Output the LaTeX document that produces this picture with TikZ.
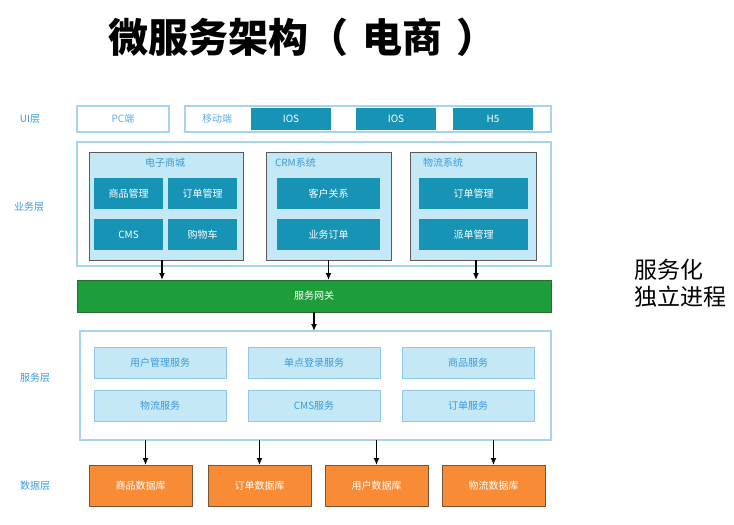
\documentclass[tikz,border=0pt]{standalone}
\usepackage{fontspec}
\setmainfont{Noto Sans CJK SC}
\usetikzlibrary{arrows.meta,positioning}
\definecolor{TealBox}{HTML}{1793B6}
\definecolor{PaleBlue}{HTML}{C5E8F7}
\definecolor{FrameBlue}{HTML}{A6D4EF}
\definecolor{LabelBlue}{HTML}{3A9AD9}
\definecolor{SystemGray}{HTML}{5A5A5A}
\definecolor{GateGreen}{HTML}{1E9E3A}
\definecolor{GateEdge}{HTML}{2F6B2F}
\definecolor{StoreOrange}{HTML}{F78B36}
\definecolor{StoreEdge}{HTML}{7A5236}

\begin{document}
\begin{tikzpicture}[x=1pt, y=-1pt, >={Latex[length=7pt,width=6pt]},
  every node/.style={inner sep=0pt, outer sep=0pt, font=\fontsize{10}{12}\selectfont},
  frame/.style={draw=FrameBlue, line width=1.5pt, fill=white},
  layer/.style={text=LabelBlue},
  tealbox/.style={fill=TealBox, text=white},
  system/.style={draw=SystemGray, line width=1pt, fill=PaleBlue, minimum width=#1, minimum height=108pt},
  svcbox/.style={draw=FrameBlue!80!LabelBlue, line width=1pt, fill=PaleBlue, text=LabelBlue,
    minimum width=132pt, minimum height=31pt},
  store/.style={draw=StoreEdge, line width=1pt, fill=StoreOrange, text=white,
    minimum width=103pt, minimum height=41pt},
  link/.style={->, line width=1.3pt}]
  \useasboundingbox (0,0) rectangle (734,525);

  % title and side note
  \node[font=\fontsize{40}{48}\selectfont\bfseries] (title) at (302,37)
    {微服务架构（\hspace{14pt}电商\hspace{14pt}）};
  \node[anchor=west, align=left, font=\fontsize{23}{27}\selectfont] (note) at (634,283)
    {服务化\\独立进程};

  % layer labels
  \node[layer] (lui) at (30,119) {UI层};
  \node[layer] (lbiz) at (29,207) {业务层};
  \node[layer] (lsvc) at (35,378) {服务层};
  \node[layer] (ldata) at (35,486) {数据层};

  % UI layer
  \node[frame, text=LabelBlue!80, minimum width=92pt, minimum height=26pt] (pc) at (123,119) {PC端};
  \node[frame, minimum width=366pt, minimum height=26pt] (mob) at (368,119) {};
  \node[text=LabelBlue!80] (mobtxt) at (217,119) {移动端};
  \node[tealbox, minimum width=80pt, minimum height=22pt] (ios1) at (291,119) {IOS};
  \node[tealbox, minimum width=80pt, minimum height=22pt] (ios2) at (396,119) {IOS};
  \node[tealbox, minimum width=80pt, minimum height=22pt] (h5) at (493,119) {H5};

  % business layer
  \node[frame, minimum width=474pt, minimum height=124pt] (biz) at (314,204) {};
  \node[system=154pt] (mall) at (166,206) {};
  \node[text=LabelBlue] (malltxt) at (165,163) {电子商城};
  \node[tealbox, minimum width=69pt, minimum height=31pt] (goods) at (128.5,193.5) {商品管理};
  \node[tealbox, minimum width=69pt, minimum height=31pt] (order) at (202.5,193.5) {订单管理};
  \node[tealbox, minimum width=69pt, minimum height=31pt] (cms) at (128.5,234.5) {CMS};
  \node[tealbox, minimum width=69pt, minimum height=31pt] (cart) at (202.5,234.5) {购物车};

  \node[system=125pt] (crm) at (328.5,206) {};
  \node[text=LabelBlue, anchor=west] (crmtxt) at (275,163) {CRM系统};
  \node[tealbox, minimum width=103pt, minimum height=31pt] (cust) at (328.5,193.5) {客户关系};
  \node[tealbox, minimum width=103pt, minimum height=31pt] (bizord) at (328.5,234.5) {业务订单};

  \node[system=126pt] (wl) at (473,206) {};
  \node[text=LabelBlue, anchor=west] (wltxt) at (423,163) {物流系统};
  \node[tealbox, minimum width=109pt, minimum height=31pt] (wlord) at (473.5,193.5) {订单管理};
  \node[tealbox, minimum width=109pt, minimum height=31pt] (dispatch) at (473.5,234.5) {派单管理};

  % gateway
  \node[draw=GateEdge, line width=1pt, fill=GateGreen, text=white,
    minimum width=474pt, minimum height=32pt] (gw) at (314,296) {服务网关};
  \draw[link] ([xshift=-4pt]mall.south) -- ([xshift=-4pt]mall.south |- gw.north);
  \draw[link] (crm.south) -- (crm.south |- gw.north);
  \draw[link] ([xshift=3pt]wl.south) -- ([xshift=3pt]wl.south |- gw.north);

  % service layer
  \node[frame, minimum width=471pt, minimum height=109pt] (svc) at (315.5,385.5) {};
  \draw[link] (gw.south) -- (gw.south |- svc.north);
  \node[svcbox] (usersvc) at (160,362.5) {用户管理服务};
  \node[svcbox] (ssosvc) at (314,362.5) {单点登录服务};
  \node[svcbox] (goodssvc) at (468,362.5) {商品服务};
  \node[svcbox] (wlsvc) at (160,406) {物流服务};
  \node[svcbox] (cmssvc) at (314,406) {CMS服务};
  \node[svcbox] (ordsvc) at (468,406) {订单服务};

  % data layer
  \node[store] (goodsdb) at (140.5,485.5) {商品数据库};
  \node[store] (orddb) at (259.5,485.5) {订单数据库};
  \node[store] (userdb) at (376.5,485.5) {用户数据库};
  \node[store] (wldb) at (493.5,485.5) {物流数据库};
  \draw[link] ([xshift=5pt]goodsdb.north |- svc.south) -- ([xshift=5pt]goodsdb.north);
  \foreach \db in {orddb,userdb,wldb}
    \draw[link] (\db.north |- svc.south) -- (\db.north);
\end{tikzpicture}
\end{document}
